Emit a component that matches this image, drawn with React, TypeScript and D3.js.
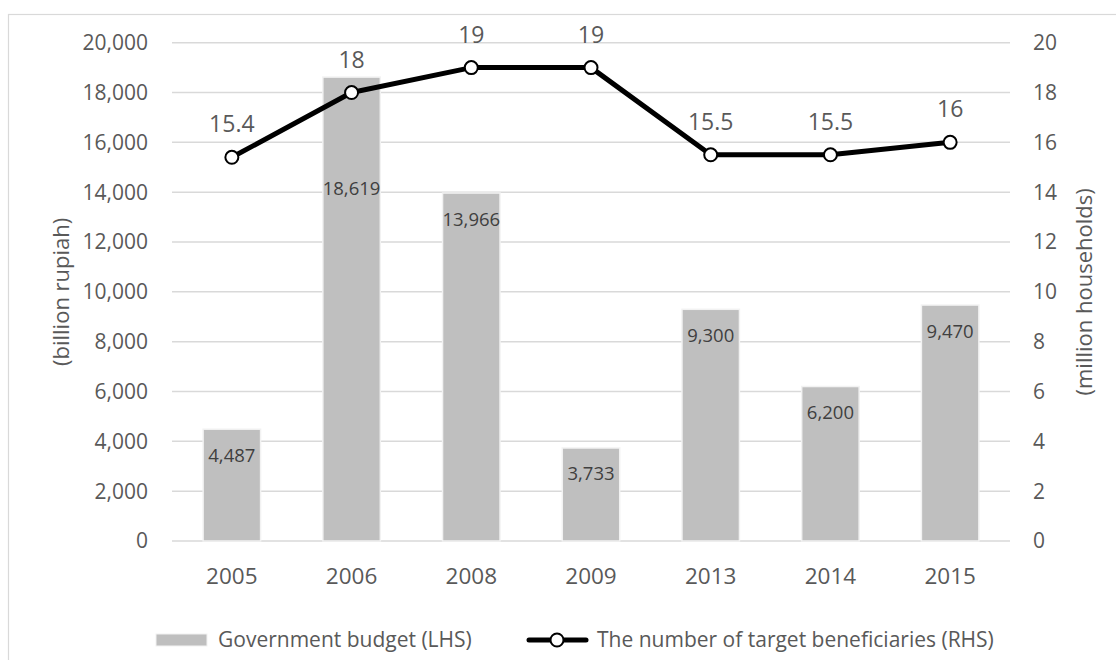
import React, { useEffect, useRef } from "react";
import * as d3 from "d3";

const years = ["2005", "2006", "2008", "2009", "2013", "2014", "2015"];
const budget = [4487, 18619, 13966, 3733, 9300, 6200, 9470];
const beneficiaries = [15.4, 18, 19, 19, 15.5, 15.5, 16];
const leftTicks = [0, 2000, 4000, 6000, 8000, 10000, 12000, 14000, 16000, 18000, 20000];
const rightTicks = [0, 2, 4, 6, 8, 10, 12, 14, 16, 18, 20];
const leftTitle = "(billion rupiah)";
const rightTitle = "(million households)";
const barLegend = "Government budget (LHS)";
const lineLegend = "The number of target beneficiaries (RHS)";

const W = 1116;
const H = 660;
const FONT = "'Open Sans', 'Noto Sans', sans-serif";
const TEXT = "#595959";
const GRID = "#D9D9D9";
const BAR = "#BFBFBF";

export default function App() {
  const ref = useRef<SVGSVGElement>(null);

  useEffect(() => {
    const svg = d3.select(ref.current);
    svg.selectAll("*").remove();

    const plot = { left: 172, right: 1010, top: 42.7, bottom: 541 };

    const x = d3.scaleBand().domain(years).range([plot.left, plot.right]).paddingInner(0.52).paddingOuter(0.26);
    const yL = d3.scaleLinear().domain([0, 20000]).range([plot.bottom, plot.top]);
    const yR = d3.scaleLinear().domain([0, 20]).range([plot.bottom, plot.top]);
    const cx = (d: string) => (x(d) as number) + x.bandwidth() / 2;

    // chart border
    svg.append("rect")
      .attr("x", 8.5).attr("y", 14.5).attr("width", W + 20).attr("height", H + 20)
      .attr("fill", "white").attr("stroke", GRID).attr("stroke-width", 1.2);

    // gridlines
    svg.append("g").selectAll("line").data(leftTicks).join("line")
      .attr("x1", plot.left).attr("x2", plot.right)
      .attr("y1", (d) => yL(d)).attr("y2", (d) => yL(d))
      .attr("stroke", GRID).attr("stroke-width", 1.5);

    // left axis labels
    svg.append("g").selectAll("text").data(leftTicks).join("text")
      .attr("x", 148).attr("y", (d) => yL(d)).attr("dy", "0.35em")
      .attr("text-anchor", "end").attr("font-family", FONT).attr("font-size", 21)
      .attr("fill", TEXT).text((d) => d3.format(",")(d));

    // right axis labels
    svg.append("g").selectAll("text").data(rightTicks).join("text")
      .attr("x", 1033).attr("y", (d) => yR(d)).attr("dy", "0.35em")
      .attr("text-anchor", "start").attr("font-family", FONT).attr("font-size", 21)
      .attr("fill", TEXT).text((d) => String(d));

    // x labels
    svg.append("g").selectAll("text").data(years).join("text")
      .attr("x", (d) => cx(d)).attr("y", 576).attr("dy", "0.35em")
      .attr("text-anchor", "middle").attr("font-family", FONT).attr("font-size", 22.5)
      .attr("fill", TEXT).text((d) => d);

    // axis titles
    svg.append("text")
      .attr("transform", `translate(61, ${(plot.top + plot.bottom) / 2}) rotate(-90)`)
      .attr("dy", "0.35em").attr("text-anchor", "middle")
      .attr("font-family", FONT).attr("font-size", 22).attr("fill", TEXT).text(leftTitle);
    svg.append("text")
      .attr("transform", `translate(1084, ${(plot.top + plot.bottom) / 2}) rotate(-90)`)
      .attr("dy", "0.35em").attr("text-anchor", "middle")
      .attr("font-family", FONT).attr("font-size", 22).attr("fill", TEXT).text(rightTitle);

    // bars
    svg.append("g").selectAll("rect").data(years).join("rect")
      .attr("x", (d) => x(d) as number).attr("width", x.bandwidth())
      .attr("y", (d, i) => yL(budget[i])).attr("height", (d, i) => plot.bottom - yL(budget[i]))
      .attr("fill", BAR).attr("stroke", "#F2F2F2").attr("stroke-width", 1.5);

    // bar labels (inside end; moved below the line where they would collide)
    svg.append("g").selectAll("text").data(years).join("text")
      .attr("x", (d) => cx(d))
      .attr("y", (d, i) => {
        const ly = yL(budget[i]) + 26;
        const py = yR(beneficiaries[i]);
        return Math.abs(ly - py) < 40 ? py + 96 : ly;
      })
      .attr("dy", "0.35em").attr("text-anchor", "middle")
      .attr("font-family", FONT).attr("font-size", 18.5).attr("fill", "#404040")
      .text((d, i) => d3.format(",")(budget[i]));

    // line
    const line = d3.line<number>().x((d, i) => cx(years[i])).y((d) => yR(d));
    svg.append("path").datum(beneficiaries).attr("d", line)
      .attr("fill", "none").attr("stroke", "black").attr("stroke-width", 5)
      .attr("stroke-linejoin", "round");
    svg.append("g").selectAll("circle").data(beneficiaries).join("circle")
      .attr("cx", (d, i) => cx(years[i])).attr("cy", (d) => yR(d)).attr("r", 6.5)
      .attr("fill", "white").attr("stroke", "black").attr("stroke-width", 2);
    svg.append("g").selectAll("text").data(beneficiaries).join("text")
      .attr("x", (d, i) => cx(years[i])).attr("y", (d) => yR(d) - 33).attr("dy", "0.35em")
      .attr("text-anchor", "middle").attr("font-family", FONT).attr("font-size", 23)
      .attr("fill", TEXT).text((d) => String(d));

    // legend
    const lg = svg.append("g");
    lg.append("rect").attr("x", 156).attr("y", 634).attr("width", 51).attr("height", 12)
      .attr("fill", BAR).attr("stroke", "#F2F2F2").attr("stroke-width", 1);
    lg.append("text").attr("x", 218).attr("y", 640).attr("dy", "0.35em")
      .attr("font-family", FONT).attr("font-size", 21).attr("fill", TEXT).text(barLegend);
    lg.append("line").attr("x1", 529).attr("x2", 586).attr("y1", 640).attr("y2", 640)
      .attr("stroke", "black").attr("stroke-width", 5).attr("stroke-linecap", "round");
    lg.append("circle").attr("cx", 557).attr("cy", 640).attr("r", 6.5)
      .attr("fill", "white").attr("stroke", "black").attr("stroke-width", 2);
    lg.append("text").attr("x", 597).attr("y", 640).attr("dy", "0.35em")
      .attr("font-family", FONT).attr("font-size", 21).attr("fill", TEXT).text(lineLegend);
  }, []);

  return (
    <svg
      ref={ref}
      width={W}
      height={H}
      style={{ position: "absolute", left: 0, top: 0, display: "block", background: "white" }}
    />
  );
}
